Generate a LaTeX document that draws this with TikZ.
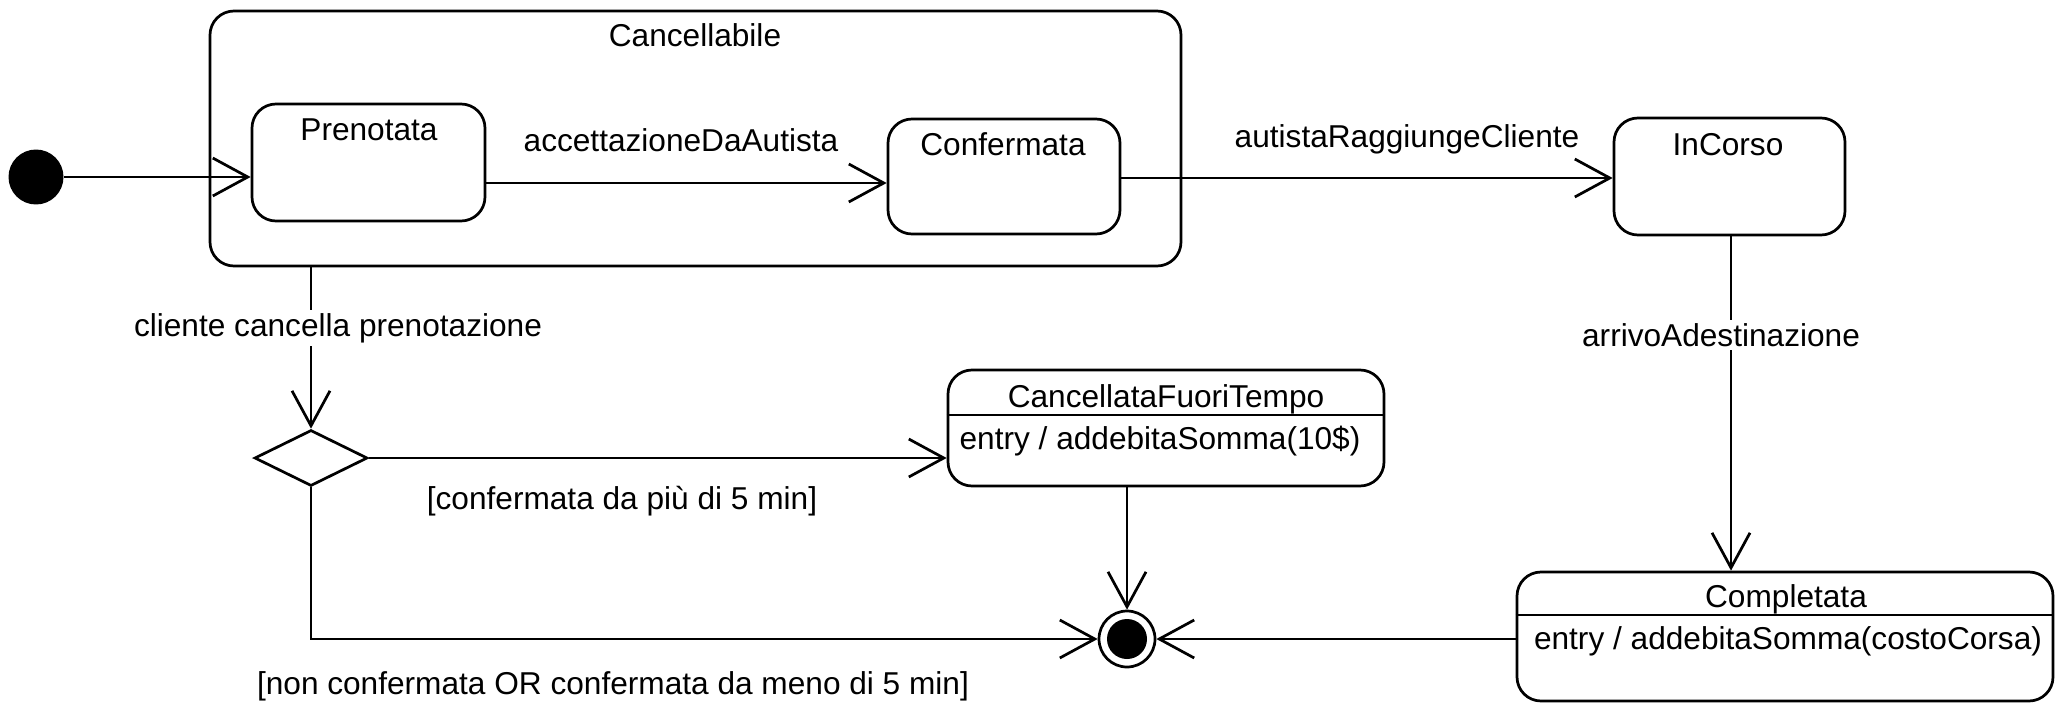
\documentclass[tikz,border=0pt]{standalone}
\usepackage{fontspec}
\setmainfont{Liberation Sans}
\usetikzlibrary{arrows.meta,shapes.geometric,fit}
\tikzset{
  lw/.style={line width=1.55pt},
  statebox/.style={draw, lw, rounded corners=0.48cm, inner sep=0pt, fit={#1}},
  txt/.style={inner sep=0pt, anchor=base, font=\fontsize{18}{21}\selectfont},
  lbl/.style={txt, fill=white, inner sep=2pt},
  tr/.style={lw, -{Straight Barb[length=0.7cm, width=0.76cm, line width=1.55pt]}},
  ln/.style={line width=1.2pt},
}
\begin{document}
\begin{tikzpicture}[x=0.02cm, y=-0.02cm]
\useasboundingbox (0,0) rectangle (2056,703);

% states
\node[circle, fill=black, minimum size=1.1cm, inner sep=0pt] (init) at (36,177) {};
\node[statebox={(210,11)(1181,266)}] (canc) {};
\node[txt] (cancT) at (695,47) {Cancellabile};
\node[statebox={(252,104)(485,221)}] (pren) {};
\node[txt] (prenT) at (369,140) {Prenotata};
\node[statebox={(888,119)(1120,234)}] (conf) {};
\node[txt] (confT) at (1003,155) {Confermata};
\node[statebox={(1614,118)(1845,235)}] (inc) {};
\node[txt] (incT) at (1728,155) {InCorso};

\node[statebox={(1517,572)(2053,701)}] (comp) {};
\node[txt] (compT) at (1786,607) {Completata};
\draw[ln] (comp.west |- 0,615) -- (comp.east |- 0,615);
\node[txt] (compE) at (1788,649) {entry / addebitaSomma(costoCorsa)};

\node[statebox={(948,370)(1384,486)}] (cft) {};
\node[txt] (cftT) at (1166,407) {CancellataFuoriTempo};
\draw[ln] (cft.west |- 0,415) -- (cft.east |- 0,415);
\node[txt] (cftE) at (1160,449) {entry / addebitaSomma(10\$)};

\node[diamond, draw, lw, minimum width=2.26cm, minimum height=1.12cm, inner sep=0pt] (dia) at (311,458) {};

\node[circle, draw, lw, minimum size=1.12cm, inner sep=0pt] (fin) at (1127,639) {};
\node[circle, fill=black, minimum size=0.8cm, inner sep=0pt] (finI) at (fin.center) {};

% transitions
\draw[tr] (init.east) -- (pren.west |- init.east);
\draw[tr] (pren.east |- 0,183) -- (conf.west |- 0,183);
\node[txt] (l1) at (681,151) {accettazioneDaAutista};
\draw[tr] (conf.east |- 0,178) -- (inc.west |- 0,178);
\node[txt] (l2) at (1407,147) {autistaRaggiungeCliente};
\draw[tr] (inc.south -| 1731,0) -- (comp.north -| 1731,0);
\node[lbl] (l3) at (1721,346) {arrivoAdestinazione};

\draw[tr] (canc.south -| dia.north) -- (dia.north);
\node[lbl] (l4) at (338,336) {cliente cancella prenotazione};
\draw[tr] (dia.east) -- (cft.west |- dia.east);
\node[txt] (l5) at (622,509) {[confermata da più di 5 min]};
\draw[tr] (dia.south) -- (dia.south |- fin) -- (fin.west);
\node[txt] (l6) at (613,694) {[non confermata OR confermata da meno di 5 min]};
\draw[tr] (cft.south -| fin) -- (fin.north);
\draw[tr] (comp.west |- fin) -- (fin.east);
\end{tikzpicture}
\end{document}
